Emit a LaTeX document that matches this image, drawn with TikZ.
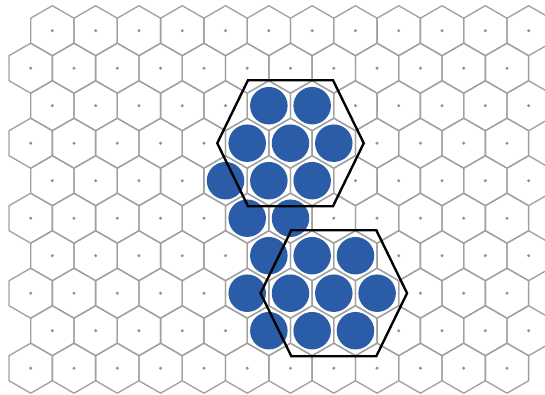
\documentclass[tikz,border=0pt]{standalone}
\usepackage{xcolor}
\usepackage{tikz}
\usetikzlibrary{calc}

\definecolor{cellblue}{RGB}{42,92,168}
\definecolor{cellgray}{RGB}{160,160,160}
\definecolor{dotgray}{RGB}{145,145,145}

\begin{document}
\begin{tikzpicture}[
  y=-1cm,
  cellline/.style={draw=cellgray, line width=1.5pt, line join=round},
  cluster/.style={draw=black, line width=2.7pt},
]
\clip (0,0) rectangle (21.8,15.76);

% Hexagonal cells with their centre dots
\foreach \r in {0,...,9} {
  \foreach \c in {0,...,11} {
    \pgfmathsetmacro{\cx}{1.228+1.732*\c+0.866*(1-mod(\r,2))}
    \pgfmathsetmacro{\cy}{1.228+1.5*\r}
    \draw[cellline] (\cx,\cy) +(30:1) -- +(90:1) -- +(150:1) -- +(210:1) -- +(270:1) -- +(330:1) -- cycle;
    \fill[dotgray] (\cx,\cy) circle (1.9pt);
  }
}

% Occupied cells (row/column)
\foreach \r/\c in {2/5, 2/6, 3/5, 3/6, 3/7, 4/4, 4/5, 4/6, 5/5, 5/6,
                   6/5, 6/6, 6/7, 7/5, 7/6, 7/7, 7/8, 8/5, 8/6, 8/7} {
  \pgfmathsetmacro{\cx}{1.228+1.732*\c+0.866*(1-mod(\r,2))}
  \pgfmathsetmacro{\cy}{1.228+1.5*\r}
  \fill[cellblue] (\cx,\cy) circle (0.75);
}

% Cluster outlines around cells (3,6) and (7,7)
\foreach \hx/\hy in {11.62/5.728, 13.352/11.728} {
  \draw[cluster] (\hx-1.7,\hy-2.52) -- (\hx+1.7,\hy-2.52) -- (\hx+2.93,\hy)
    -- (\hx+1.7,\hy+2.52) -- (\hx-1.7,\hy+2.52) -- (\hx-2.93,\hy) -- cycle;
}
\end{tikzpicture}
\end{document}
